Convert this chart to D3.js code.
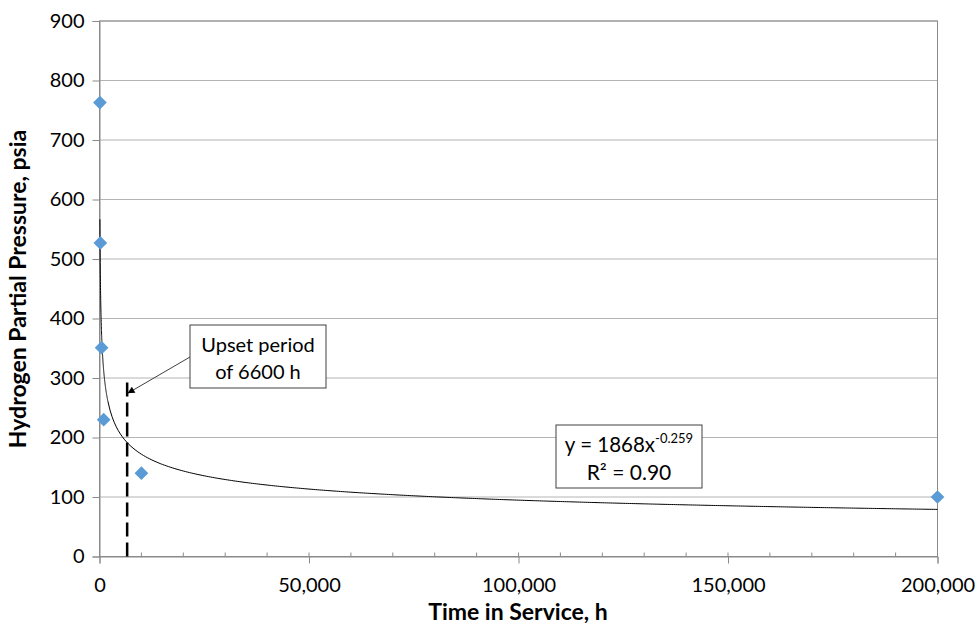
<!DOCTYPE html>
<html>
<head>
<meta charset="utf-8">
<script src="https://cdn.jsdelivr.net/npm/d3@7"></script>
<style>
  body { margin: 0; background: #fff; }
  text { font-family: Lato, "Open Sans", sans-serif; }
</style>
</head>
<body>
<svg id="chart" width="977" height="629"></svg>
<script>
// Hours in service vs H2 partial pressure
const hours = [100, 200, 500, 1000, 10000, 200000]
const pressure = [763, 527, 351, 230, 140, 100]
const yTicks = [0, 100, 200, 300, 400, 500, 600, 700, 800, 900]
const xTicks = [0, 50000, 100000, 150000, 200000]
const fit = { a: 1868, b: -0.259, r2: '0.90', from: 100, to: 200000 }
const upset = { hours: 6600, top: 300 }

const svg = d3.select('#chart')
const m = { left: 99.5, right: 937.5, top: 21, bottom: 556.5 }

const x = d3.scaleLinear().domain([0, 200000]).range([m.left, m.right])
const y = d3.scaleLinear().domain([0, 900]).range([m.bottom, m.top])

// Gridlines
svg.append('g')
  .selectAll('line')
  .data(yTicks.slice(1))
  .join('line')
  .attr('x1', m.left).attr('x2', m.right)
  .attr('y1', d => y(d)).attr('y2', d => y(d))
  .style('stroke', '#b4b4b4')
  .style('stroke-width', 1)

// Plot border
svg.append('rect')
  .attr('x', m.left).attr('y', m.top)
  .attr('width', m.right - m.left).attr('height', m.bottom - m.top)
  .style('fill', 'none')
  .style('stroke', '#8a8a8a')

// Y axis
let yAxis = d3.axisLeft(y).tickValues(yTicks).tickSize(7).tickPadding(8)
let gy = svg.append('g')
  .attr('transform', 'translate(' + m.left + ',0)')
  .call(yAxis)
gy.select('.domain').style('stroke', '#8a8a8a')
gy.selectAll('.tick line').style('stroke', '#8a8a8a')
gy.selectAll('.tick text').style('font-size', '20px').style('fill', '#000')

// X axis, minor ticks every 10,000
let xMinor = d3.range(0, 200001, 10000)
svg.append('g')
  .selectAll('line')
  .data(xMinor)
  .join('line')
  .attr('x1', d => x(d)).attr('x2', d => x(d))
  .attr('y1', m.bottom).attr('y2', m.bottom - 4)
  .style('stroke', '#8a8a8a')

let xAxis = d3.axisBottom(x).tickValues(xTicks).tickSize(7).tickPadding(14)
  .tickFormat(d3.format(','))
let gx = svg.append('g')
  .attr('transform', 'translate(0,' + m.bottom + ')')
  .call(xAxis)
gx.select('.domain').style('stroke', '#8a8a8a')
gx.selectAll('.tick line').style('stroke', '#8a8a8a')
gx.selectAll('.tick text').style('font-size', '20px').style('fill', '#000')

// Power-law trend line
let curvePts = []
for (let h = fit.from; h < 2000; h += 10) curvePts.push(h)
for (let h = 2000; h <= fit.to; h += 500) curvePts.push(h)
let line = d3.line()
  .x(d => x(d))
  .y(d => y(fit.a * Math.pow(d, fit.b)))
svg.append('path')
  .datum(curvePts)
  .attr('d', line)
  .style('fill', 'none')
  .style('stroke', '#000')
  .style('stroke-width', 1)

// Upset period marker
svg.append('line')
  .attr('x1', x(upset.hours)).attr('x2', x(upset.hours))
  .attr('y1', m.bottom).attr('y2', y(upset.top))
  .style('stroke', '#000')
  .style('stroke-width', 2.5)
  .style('stroke-dasharray', '14,6')

// Data points
let points = hours.map((h, i) => [h, pressure[i]])
svg.append('g')
  .selectAll('path')
  .data(points)
  .join('path')
  .attr('d', d3.symbol().type(d3.symbolDiamond2).size(120))
  .attr('transform', d => 'translate(' + x(d[0]) + ',' + y(d[1]) + ')')
  .style('fill', '#5b9bd5')

// Callout with arrow
svg.append('defs').append('marker')
  .attr('id', 'arrow')
  .attr('viewBox', '0 0 10 10')
  .attr('refX', 9).attr('refY', 5)
  .attr('markerWidth', 9).attr('markerHeight', 7)
  .attr('orient', 'auto')
  .append('path')
  .attr('d', 'M0,0L10,5L0,10Z')
  .style('fill', '#000')

svg.append('line')
  .attr('x1', 190).attr('y1', 357)
  .attr('x2', x(upset.hours) + 1).attr('y2', 393)
  .style('stroke', '#404040')
  .style('stroke-width', 1)
  .attr('marker-end', 'url(#arrow)')

svg.append('rect')
  .attr('x', 190).attr('y', 325).attr('width', 136).attr('height', 63)
  .style('fill', '#fff').style('stroke', '#404040')
svg.append('text')
  .attr('x', 258).attr('y', 352)
  .attr('text-anchor', 'middle')
  .style('font-size', '20px')
  .text('Upset period')
svg.append('text')
  .attr('x', 258).attr('y', 379)
  .attr('text-anchor', 'middle')
  .style('font-size', '20px')
  .text('of 6600 h')

// Equation box
svg.append('rect')
  .attr('x', 556).attr('y', 425).attr('width', 146).attr('height', 63)
  .style('fill', '#fff').style('stroke', '#404040')
let eq = svg.append('text')
  .attr('x', 629).attr('y', 452)
  .attr('text-anchor', 'middle')
  .style('font-size', '20.5px')
eq.append('tspan').text('y = ' + fit.a + 'x')
eq.append('tspan').attr('dy', -9).style('font-size', '13px').text(fit.b)
svg.append('text')
  .attr('x', 629).attr('y', 480)
  .attr('text-anchor', 'middle')
  .style('font-size', '21px')
  .text('R\u00b2 = ' + fit.r2)

// Axis titles
svg.append('text')
  .attr('x', 518).attr('y', 620)
  .attr('text-anchor', 'middle')
  .style('font-size', '23px').style('font-weight', 'bold')
  .text('Time in Service, h')
svg.append('text')
  .attr('transform', 'translate(26,' + 289 + ') rotate(-90)')
  .attr('text-anchor', 'middle')
  .style('font-size', '23px').style('font-weight', 'bold')
  .text('Hydrogen Partial Pressure, psia')
</script>
</body>
</html>
